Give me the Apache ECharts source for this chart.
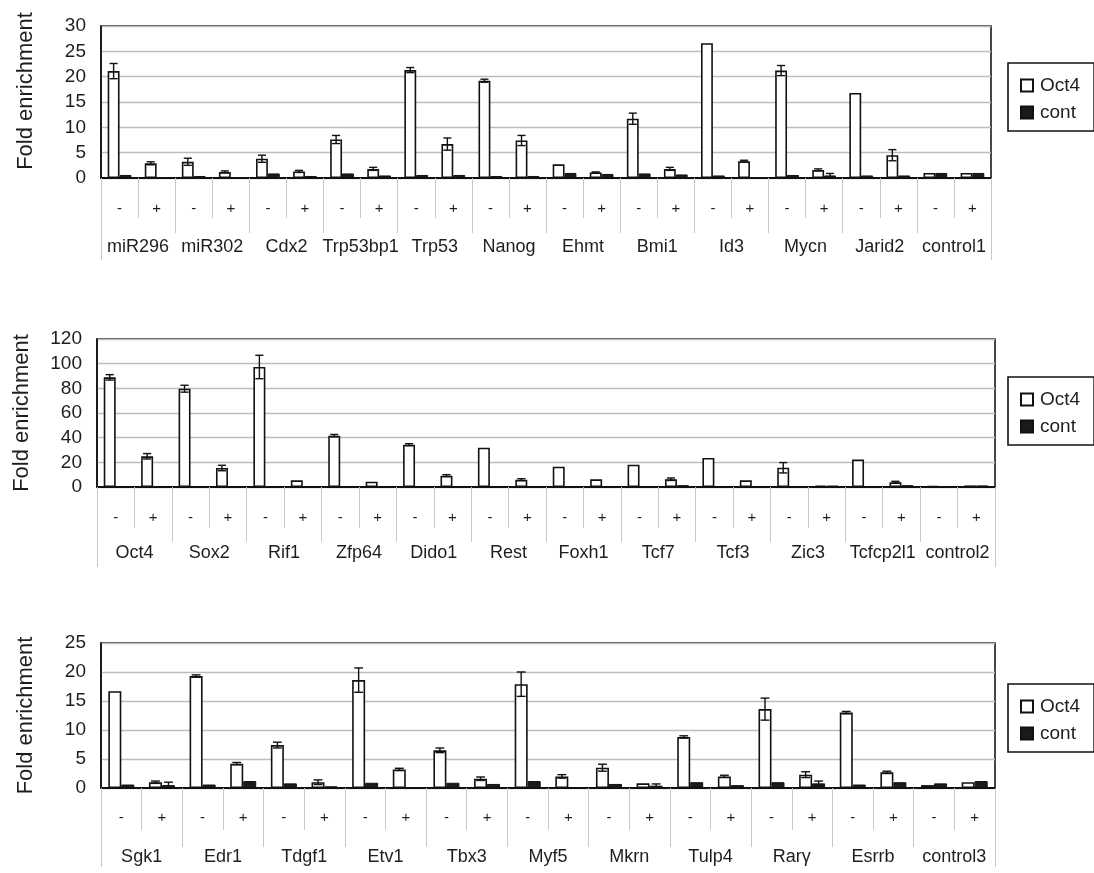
<!DOCTYPE html>
<html>
<head>
<meta charset="utf-8">
<script src="https://cdn.jsdelivr.net/npm/echarts@6/dist/echarts.min.js"></script>
<style>
html,body{margin:0;padding:0;background:#fff;}
#chart{width:1094px;height:873px;}
</style>
</head>
<body>
<div id="chart"></div>
<script>
// ---------- DATA ----------
const conditions = ['-', '+'];

const genes1 = ['miR296','miR302','Cdx2','Trp53bp1','Trp53','Nanog','Ehmt','Bmi1','Id3','Mycn','Jarid2','control1'];
const oct4_1 = [21.1, 2.9, 3.2, 1.2, 3.8, 1.3, 7.6, 1.8, 21.3, 6.7, 19.2, 7.4, 2.7, 1.1, 11.7, 1.8, 26.6, 3.3, 21.2, 1.6, 16.8, 4.5, 1.0, 1.0];
const oct4Err1 = [1.5, 0.3, 0.7, 0.2, 0.7, 0.2, 0.8, 0.3, 0.5, 1.2, 0.3, 1.0, 0, 0.1, 1.1, 0.3, 0, 0.2, 1.0, 0.2, 0, 1.1, 0, 0];
const cont_1 = [0.6, 0.1, 0.4, 0.1, 0.9, 0.4, 0.9, 0.5, 0.6, 0.6, 0.4, 0.4, 1.0, 0.8, 0.9, 0.7, 0.5, 0.1, 0.6, 0.5, 0.5, 0.5, 1.0, 1.0];
const contErr1 = [0, 0, 0, 0, 0, 0, 0, 0, 0, 0, 0, 0, 0, 0, 0, 0, 0, 0, 0, 0.4, 0, 0, 0, 0];

const genes2 = ['Oct4','Sox2','Rif1','Zfp64','Dido1','Rest','Foxh1','Tcf7','Tcf3','Zic3','Tcfcp2l1','control2'];
const oct4_2 = [88.9, 24.9, 79.7, 15.4, 97.3, 5.4, 41.6, 4.3, 34.3, 9.2, 31.9, 5.9, 16.5, 6.2, 18.1, 6.3, 23.5, 5.4, 15.6, 1.2, 22.2, 3.8, 0.8, 1.3];
const oct4Err2 = [2.2, 2.2, 2.8, 2.2, 9.5, 0, 1.0, 0, 0.8, 0.8, 0, 0.8, 0, 0, 0, 1.0, 0, 0, 4.2, 0, 0, 0.8, 0, 0];
const cont_2 = [0.6, 0.6, 0.6, 0.6, 0.6, 0.6, 0.6, 0.6, 0.6, 0.6, 0.6, 0.6, 0.6, 0.6, 0.6, 1.5, 0.6, 0.6, 0.6, 1.2, 0.6, 1.5, 0.8, 1.3];
const contErr2 = [0, 0, 0, 0, 0, 0, 0, 0, 0, 0, 0, 0, 0, 0, 0, 0, 0, 0, 0, 0, 0, 0, 0, 0];

const genes3 = ['Sgk1','Edr1','Tdgf1','Etv1','Tbx3','Myf5','Mkrn','Tulp4','Rarγ','Esrrb','control3'];
const oct4_3 = [16.7, 1.0, 19.3, 4.2, 7.4, 1.0, 18.6, 3.2, 6.5, 1.6, 17.9, 2.0, 3.5, 0.8, 8.8, 2.0, 13.6, 2.3, 13.0, 2.7, 0.5, 1.0];
const oct4Err3 = [0, 0.2, 0.2, 0.2, 0.5, 0.4, 2.1, 0.2, 0.4, 0.3, 2.1, 0.3, 0.6, 0, 0.2, 0.2, 1.9, 0.5, 0.2, 0.2, 0, 0];
const cont_3 = [0.6, 0.5, 0.6, 1.2, 0.8, 0.3, 0.9, 0.1, 0.9, 0.7, 1.2, 0.1, 0.7, 0.4, 1.0, 0.5, 1.0, 0.8, 0.6, 1.0, 0.8, 1.2];
const contErr3 = [0, 0.5, 0, 0, 0, 0, 0, 0, 0, 0, 0, 0, 0, 0.3, 0, 0, 0, 0.4, 0, 0, 0, 0];

const yMax = [30, 120, 25];
const yStep = [5, 20, 5];
// ---------- END DATA ----------

const panels = [
  {genes: genes1, oct4: oct4_1, oe: oct4Err1, cont: cont_1, ce: contErr1},
  {genes: genes2, oct4: oct4_2, oe: oct4Err2, cont: cont_2, ce: contErr2},
  {genes: genes3, oct4: oct4_3, oe: oct4Err3, cont: cont_3, ce: contErr3}
];

const grids = [
  {left: 101, top: 26, width: 890, height: 152},
  {left: 97, top: 339, width: 898, height: 148},
  {left: 101, top: 643, width: 894, height: 145}
];
const legendPos = [{left: 1008, top: 63}, {left: 1008, top: 377}, {left: 1008, top: 684}];
const tickLen = [[40, 55, 82], [41, 55, 80], [42, 59, 79]];
const labelMargin = [[23, 60], [23, 57], [22, 60]];
const namePad = [[0, 0, 0, 22], [0, 0, 0, 0], [0, 0, 0, 0]];

const CAT_GAP = 0.36;
const FONT = '"Liberation Sans", Arial, sans-serif';
const TXT = '#1e1e1e';
const SEP = '#c8c8c8';

function errRender(sign) {
  return function (params, api) {
    const i = api.value(0), v = api.value(1), e = api.value(2);
    if (!e) return null;
    const band = api.size([1, 0])[0];
    const bw = band * (1 - CAT_GAP) / 2;
    const x = api.coord([i, v])[0] + sign * bw / 2;
    const yt = api.coord([i, v + e])[1];
    const yb = api.coord([i, Math.max(v - e, 0)])[1];
    const cap = bw * 0.34;
    const st = {stroke: '#111', lineWidth: 1.4};
    return {type: 'group', children: [
      {type: 'line', shape: {x1: x, y1: yt, x2: x, y2: yb}, style: st},
      {type: 'line', shape: {x1: x - cap, y1: yt, x2: x + cap, y2: yt}, style: st},
      {type: 'line', shape: {x1: x - cap, y1: yb, x2: x + cap, y2: yb}, style: st}
    ]};
  };
}

const option = {
  animation: false,
  backgroundColor: '#fff',
  textStyle: {fontFamily: FONT},
  grid: [], xAxis: [], yAxis: [], series: [], legend: []
};

panels.forEach((p, k) => {
  const cats = [];
  p.genes.forEach(g => conditions.forEach(c => cats.push(g + '|' + c)));
  option.grid.push(Object.assign({show: true, borderColor: '#1a1a1a', borderWidth: 1.6, backgroundColor: '#fff'}, grids[k]));
  // outer edge lines (whole block)
  option.xAxis.push({
    type: 'category', gridIndex: k, data: [''], position: 'bottom',
    axisLine: {show: false},
    axisTick: {show: true, interval: 0, length: tickLen[k][2], lineStyle: {color: SEP, width: 1}},
    axisLabel: {show: false}, splitLine: {show: false}
  });
  // -/+ condition axis
  option.xAxis.push({
    type: 'category', gridIndex: k, data: cats, position: 'bottom',
    axisLine: {show: true, lineStyle: {color: '#111', width: 2}},
    axisTick: {show: true, interval: 0, length: tickLen[k][0], lineStyle: {color: SEP, width: 1}},
    axisLabel: {interval: 0, margin: labelMargin[k][0], fontSize: 15, color: TXT, fontFamily: FONT,
      formatter: v => v.split('|')[1]},
    splitLine: {show: false}
  });
  // gene axis
  option.xAxis.push({
    type: 'category', gridIndex: k, data: p.genes, position: 'bottom',
    axisLine: {show: false},
    axisTick: {show: true, interval: 0, length: tickLen[k][1], lineStyle: {color: SEP, width: 1}},
    axisLabel: {interval: 0, margin: labelMargin[k][1], fontSize: 18, color: TXT, fontFamily: FONT},
    splitLine: {show: false}
  });
  option.yAxis.push({
    type: 'value', gridIndex: k, min: 0, max: yMax[k], interval: yStep[k],
    name: 'Fold enrichment', nameLocation: 'middle', nameGap: 64, nameRotate: 90,
    nameTextStyle: {fontSize: 22, color: TXT, fontFamily: FONT, padding: namePad[k]},
    axisLine: {show: true, lineStyle: {color: '#111', width: 1.6}},
    axisTick: {show: false},
    axisLabel: {fontSize: 19, color: TXT, margin: 15, fontFamily: FONT},
    splitLine: {show: true, lineStyle: {color: '#bdbdbd', width: 1.3}}
  });
  const xi = k * 3 + 1;
  option.series.push({
    name: 'Oct4', type: 'bar', xAxisIndex: xi, yAxisIndex: k, data: p.oct4,
    barGap: '0%', barCategoryGap: (CAT_GAP * 100) + '%',
    itemStyle: {color: '#ffffff', borderColor: '#111', borderWidth: 1.6}
  });
  option.series.push({
    name: 'cont', type: 'bar', xAxisIndex: xi, yAxisIndex: k, data: p.cont,
    barGap: '0%', barCategoryGap: (CAT_GAP * 100) + '%',
    itemStyle: {color: '#1a1a1a', borderColor: '#111', borderWidth: 1}
  });
  option.series.push({
    type: 'custom', xAxisIndex: xi, yAxisIndex: k, z: 5,
    renderItem: errRender(-1), encode: {x: 0, y: 1},
    data: p.oct4.map((v, i) => [i, v, p.oe[i]])
  });
  option.series.push({
    type: 'custom', xAxisIndex: xi, yAxisIndex: k, z: 5,
    renderItem: errRender(1), encode: {x: 0, y: 1},
    data: p.cont.map((v, i) => [i, v, p.ce[i]])
  });
  option.legend.push({
    data: ['Oct4', 'cont'], orient: 'vertical',
    left: legendPos[k].left, top: legendPos[k].top,
    borderColor: '#111', borderWidth: 1.6, padding: [13, 14, 9, 12],
    itemGap: 8, itemWidth: 12, itemHeight: 12, icon: 'rect',
    textStyle: {fontSize: 19, color: TXT, fontFamily: FONT, padding: [0, 0, 0, 2]}
  });
});

const chart = echarts.init(document.getElementById('chart'), null, {renderer: 'canvas'});
chart.setOption(option);
</script>
</body>
</html>
